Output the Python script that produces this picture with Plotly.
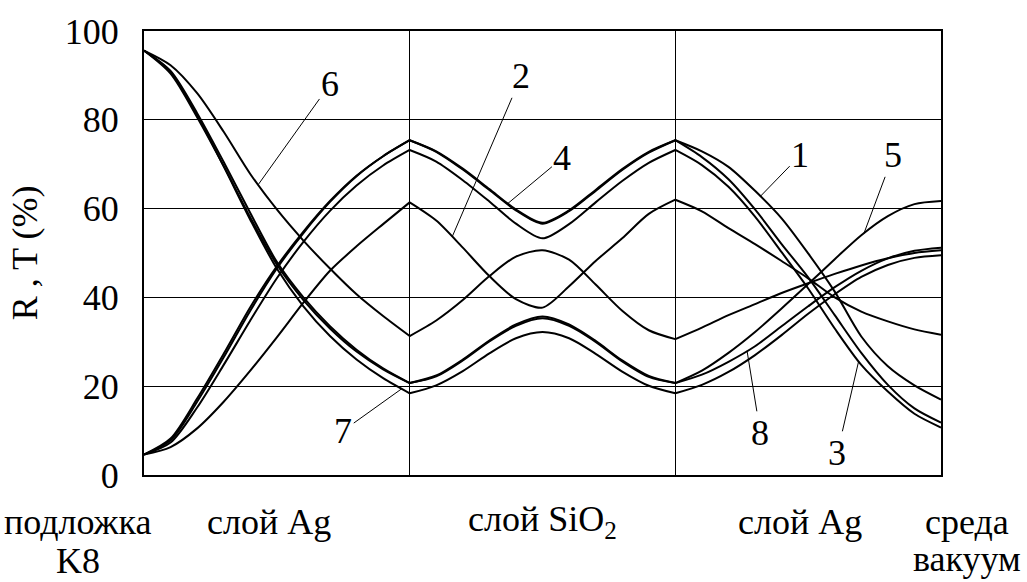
import numpy as np
import plotly.graph_objects as go

# Normalised depth through the stack: 0-1 first Ag layer, 1-2 SiO2, 2-3 second Ag layer
T = [0.0, 0.1, 0.2, 0.3, 0.4, 0.5, 0.6, 0.7, 0.8, 0.9, 1.0,
     1.1, 1.2, 1.3, 1.4, 1.5, 1.6, 1.7, 1.8, 1.9, 2.0,
     2.1, 2.2, 2.3, 2.4, 2.5, 2.6, 2.7, 2.8, 2.9, 3.0]

# R, T values (%) along the depth for curves 1..8
curve1 = [4.6, 7.8, 16.5, 26.5, 37.0, 46.5, 54.5, 61.5, 67.3, 71.8, 75.4,
          72.8, 68.8, 64.2, 59.6, 56.6, 59.4, 64.0, 68.7, 72.6, 75.4,
          72.9, 69.4, 64.0, 57.8, 49.9, 41.3, 31.2, 24.5, 20.2, 17.0]
curve2 = [4.6, 6.3, 10.5, 16.5, 23.5, 31.0, 38.8, 46.0, 51.5, 56.5, 61.4,
          57.3, 51.2, 44.8, 39.6, 37.7, 42.5, 48.2, 53.3, 58.8, 62.0,
          59.4, 55.6, 52.0, 48.2, 44.3, 40.0, 36.8, 34.6, 32.8, 31.6]
curve3 = [4.6, 7.3, 15.2, 24.8, 34.8, 44.3, 52.5, 59.5, 65.2, 69.7, 73.2,
          70.6, 66.4, 61.6, 56.6, 53.3, 56.5, 61.4, 66.2, 70.3, 73.2,
          69.8, 64.9, 58.2, 50.2, 42.0, 33.0, 24.8, 18.8, 13.8, 10.7]
curve4 = [4.6, 8.2, 17.2, 27.3, 37.8, 47.0, 54.8, 61.7, 67.4, 71.8, 75.4,
          72.9, 69.0, 64.4, 59.8, 56.8, 59.6, 64.2, 68.9, 72.8, 75.4,
          71.6, 66.6, 59.8, 52.0, 44.5, 36.0, 27.5, 20.3, 15.0, 11.8]
curve5 = [95.6, 91.0, 81.5, 70.5, 59.0, 48.0, 40.0, 33.5, 28.2, 24.0, 20.7,
          22.4, 26.0, 30.3, 33.9, 35.7, 33.9, 30.2, 25.8, 22.3, 20.7,
          23.5, 27.5, 32.2, 37.5, 43.0, 48.6, 54.0, 58.3, 61.0, 61.7]
curve6 = [95.6, 92.3, 86.0, 77.3, 67.8, 59.8, 52.8, 46.5, 40.7, 35.8, 31.3,
          34.8, 39.4, 44.8, 49.2, 50.6, 48.5, 42.9, 37.0, 32.6, 30.6,
          33.2, 36.0, 38.5, 41.0, 43.2, 45.3, 47.2, 48.8, 50.0, 50.6]
curve7 = [95.6, 90.8, 81.0, 69.5, 57.5, 46.5, 38.0, 31.3, 26.0, 21.8, 18.4,
          20.2, 23.4, 27.4, 30.8, 32.2, 30.8, 27.3, 23.3, 20.1, 18.4,
          20.3, 23.2, 27.0, 31.5, 36.3, 40.7, 44.6, 47.3, 48.9, 49.5]
curve8 = [95.6, 90.4, 80.6, 69.6, 58.0, 47.4, 39.4, 33.0, 27.8, 23.8, 20.7,
          22.2, 25.8, 30.1, 33.6, 35.3, 33.6, 30.0, 25.6, 22.1, 20.7,
          22.6, 25.5, 29.0, 33.5, 38.0, 42.3, 46.0, 48.8, 50.5, 51.2]

curves = {"1": curve1, "2": curve2, "3": curve3, "4": curve4,
          "5": curve5, "6": curve6, "7": curve7, "8": curve8}

# Curve label: (depth of the pointed point, label text position t, label text position %)
labels = {
    "1": (2.32, 2.47, 72.0),
    "2": (1.16, 1.42, 89.8),
    "3": (2.69, 2.61, 5.0),
    "4": (1.37, 1.575, 71.4),
    "5": (2.71, 2.82, 72.0),
    "6": (0.43, 0.70, 88.0),
    "7": (0.97, 0.75, 10.0),
    "8": (2.27, 2.32, 9.5),
}

# Layer names under the axis (positions as fractions of the plot width / height)
layer_names = ["подложка", "K8", "слой Ag", "слой SiO<sub>2</sub>", "слой Ag", "среда", "вакуум"]
layer_pos_x = [-0.083, -0.083, 0.157, 0.5, 0.823, 1.033, 1.033]
layer_pos_y = [-0.105, -0.193, -0.105, -0.105, -0.105, -0.105, -0.19]

FONT = "Liberation Serif, Times New Roman, serif"
fig = go.Figure()

# each curve is drawn layer by layer so the kinks at the interfaces stay sharp
bounds = [(0, 11), (10, 21), (20, 31)]
for name, vals in curves.items():
    for a, b in bounds:
        fig.add_trace(go.Scatter(
            x=T[a:b], y=vals[a:b], mode="lines",
            line=dict(color="black", width=2, shape="spline", smoothing=0.8),
            showlegend=False, hoverinfo="skip"))

annotations = []
for name, (tp, tx, vy) in labels.items():
    yp = float(np.interp(tp, T, curves[name]))
    annotations.append(dict(
        x=tp, y=yp, xref="x", yref="y", ax=tx, ay=vy, axref="x", ayref="y",
        text=name, showarrow=True, arrowhead=0, arrowwidth=1, arrowcolor="black",
        font=dict(family=FONT, size=36, color="black")))

for txt, tx, ty in zip(layer_names, layer_pos_x, layer_pos_y):
    annotations.append(dict(
        x=tx, y=ty, xref="paper", yref="paper", text=txt, showarrow=False,
        xanchor="center", yanchor="middle",
        font=dict(family=FONT, size=36, color="black")))

annotations.append(dict(
    x=-0.149, y=0.5, xref="paper", yref="paper", text="R , T (%)", textangle=-90,
    showarrow=False, xanchor="center", yanchor="middle",
    font=dict(family=FONT, size=36, color="black")))

fig.update_layout(
    width=1027, height=582,
    margin=dict(l=144, r=86, t=24, b=107),
    paper_bgcolor="white", plot_bgcolor="white",
    annotations=annotations,
    xaxis=dict(range=[0, 3], dtick=1, tick0=0, showgrid=True, gridcolor="black", gridwidth=1,
               showticklabels=False, ticks="", zeroline=False,
               showline=True, linecolor="black", linewidth=2, mirror=True),
    yaxis=dict(range=[0, 100], dtick=20, tick0=0, showgrid=True, gridcolor="black", gridwidth=1,
               ticks="", ticklabelstandoff=16, zeroline=False,
               tickfont=dict(family=FONT, size=36, color="black"),
               showline=True, linecolor="black", linewidth=2, mirror=True),
)

fig.write_html("out.html")
